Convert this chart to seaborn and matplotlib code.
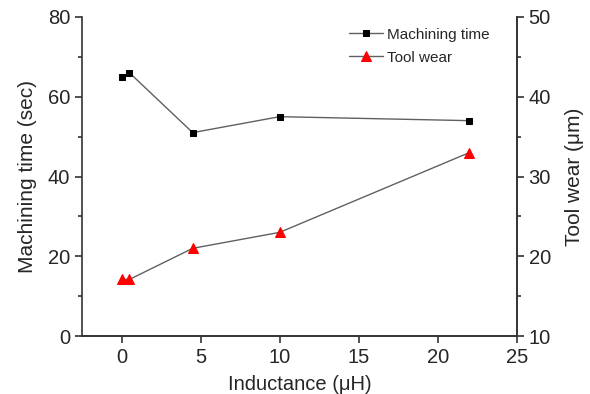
import matplotlib
matplotlib.use('Agg')
import matplotlib.pyplot as plt
import seaborn as sns
import pandas as pd
from matplotlib.ticker import MultipleLocator

# Data
inductance = [0, 0.5, 4.5, 10, 22]
machining_time = [65, 66, 51, 55, 54]
tool_wear = [17.1, 17.1, 21, 23, 33]

df = pd.DataFrame({'Inductance': inductance,
                   'Machining time': machining_time,
                   'Tool wear': tool_wear})

sns.set_style('ticks')
plt.rcParams['font.family'] = ['Liberation Sans', 'DejaVu Sans']

fig = plt.figure(figsize=(5.9, 3.94), dpi=100)
ax = fig.add_axes([0.139, 0.147, 0.737, 0.81])
ax2 = ax.twinx()

line_col = '#606060'
sns.lineplot(data=df, x='Inductance', y='Machining time', ax=ax, color=line_col,
             lw=1, marker='s', markersize=5, markerfacecolor='black',
             markeredgecolor='black', label='Machining time', legend=False)
sns.lineplot(data=df, x='Inductance', y='Tool wear', ax=ax2, color=line_col,
             lw=1, marker='^', markersize=7, markerfacecolor='red',
             markeredgecolor='red', label='Tool wear', legend=False)

ax.set_xlim(-2.5, 25)
ax.set_ylim(0, 80)
ax2.set_ylim(10, 50)
ax.xaxis.set_major_locator(MultipleLocator(5))
ax.yaxis.set_major_locator(MultipleLocator(20))
ax.yaxis.set_minor_locator(MultipleLocator(10))
ax2.yaxis.set_major_locator(MultipleLocator(10))
ax2.yaxis.set_minor_locator(MultipleLocator(5))

for a in (ax, ax2):
    a.spines['top'].set_visible(False)
    for s in a.spines.values():
        s.set_linewidth(1.2)
        s.set_color('#333333')
    a.tick_params(which='major', length=5, width=1.2, labelsize=14.5, color='#333333')
    a.tick_params(which='minor', length=3, width=1.2, color='#333333')
ax2.spines['left'].set_visible(False)

ax.set_xlabel('Inductance (\u03bcH)', fontsize=14.5, labelpad=6)
ax.set_ylabel('Machining time (sec)', fontsize=15, labelpad=8)
ax2.set_ylabel('Tool wear (\u03bcm)', fontsize=15, labelpad=10)

h1, l1 = ax.get_legend_handles_labels()
h2, l2 = ax2.get_legend_handles_labels()
ax.legend(h1 + h2, l1 + l2, loc='upper right', bbox_to_anchor=(0.97, 1.01),
          frameon=False, fontsize=11, handlelength=2.2, handletextpad=0.3,
          labelspacing=0.6)

fig.savefig('out.png', dpi=100)
plt.close()
